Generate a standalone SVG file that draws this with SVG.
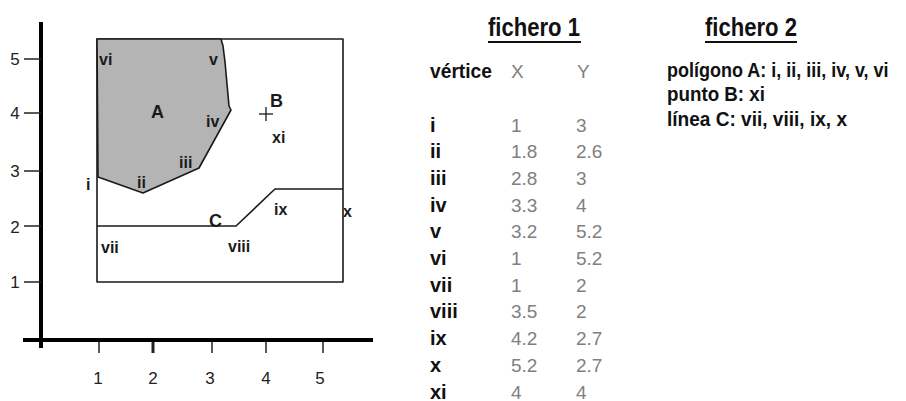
<svg xmlns="http://www.w3.org/2000/svg" width="906" height="401" viewBox="0 0 906 401">
  <style>
    .axis { stroke: #000; stroke-width: 4; fill: none; }
    .tick { stroke: #222; stroke-width: 1.5; }
    .edge { stroke: #1a1a1a; stroke-width: 1.6; fill: none; stroke-linejoin: round; }
    .area { fill: #b4b4b4; }
    .num { font-family: "Liberation Sans", Arial, sans-serif; font-size: 17px; fill: #222; }
    .lbl { font-family: "Liberation Sans", Arial, sans-serif; font-size: 16px; font-weight: bold; fill: #1a1a1a; }
    .big { font-size: 18px; }
    .title { font-family: "Liberation Sans Narrow", "Liberation Sans", Arial, sans-serif; font-size: 25px; font-weight: bold; fill: #111; }
    .head { font-family: "Liberation Sans", Arial, sans-serif; font-size: 20px; font-weight: bold; fill: #111; }
    .val { font-family: "Liberation Sans", Arial, sans-serif; font-size: 19px; fill: #808080; }
    .uline { stroke: #111; stroke-width: 2; }
  </style>

  <!-- coordinate axes -->
  <g id="axes">
    <line class="axis" x1="41" y1="22" x2="41" y2="348"/>
    <line class="axis" x1="23" y1="340" x2="373" y2="340"/>
    <!-- y ticks -->
    <line class="tick" x1="24" y1="59" x2="41" y2="59"/>
    <line class="tick" x1="24" y1="113" x2="41" y2="113"/>
    <line class="tick" x1="24" y1="171" x2="41" y2="171"/>
    <line class="tick" x1="24" y1="226" x2="41" y2="226"/>
    <line class="tick" x1="24" y1="282" x2="41" y2="282"/>
    <!-- x ticks -->
    <line class="tick" x1="99" y1="342" x2="99" y2="353"/>
    <line class="tick" x1="153" y1="342" x2="153" y2="353" style="stroke-width:3"/>
    <line class="tick" x1="212" y1="342" x2="212" y2="353"/>
    <line class="tick" x1="266" y1="342" x2="266" y2="353"/>
    <line class="tick" x1="323" y1="342" x2="323" y2="353"/>
    <g class="num" text-anchor="middle">
      <text x="15" y="65">5</text>
      <text x="15" y="119">4</text>
      <text x="15" y="177">3</text>
      <text x="15" y="233">2</text>
      <text x="15" y="288">1</text>
      <text x="98" y="384">1</text>
      <text x="153" y="384">2</text>
      <text x="210" y="384">3</text>
      <text x="266" y="384">4</text>
      <text x="320" y="384">5</text>
    </g>
  </g>

  <!-- map frame -->
  <g id="frame">
    <rect class="edge" x="97" y="39" width="246" height="243"/>
  </g>

  <!-- polygon A -->
  <g id="polygonA">
    <polygon class="edge area" points="97,39 221,39 223,46 225,62 227,84 229,106 231,110 199,168 143,193 98,177"/>
    <text class="lbl big" x="151" y="118">A</text>
  </g>

  <!-- point B -->
  <g id="pointB">
    <line stroke="#1a1a1a" stroke-width="1.3" x1="259" y1="114" x2="273" y2="114"/>
    <line stroke="#1a1a1a" stroke-width="1.3" x1="266" y1="107" x2="266" y2="121"/>
    <text class="lbl big" x="270" y="107">B</text>
  </g>

  <!-- line C -->
  <g id="connectors">
    <polyline class="edge" points="97,226 236,226 275,189 343,189"/>
    <text class="lbl big" x="209" y="227">C</text>
  </g>

  <!-- vertex labels -->
  <g id="vertexLabels" class="lbl">
    <text x="86" y="190">i</text>
    <text x="137" y="188">ii</text>
    <text x="179" y="168">iii</text>
    <text x="206" y="127">iv</text>
    <text x="209" y="65">v</text>
    <text x="99" y="65">vi</text>
    <text x="101" y="253">vii</text>
    <text x="228" y="252">viii</text>
    <text x="274" y="215">ix</text>
    <text x="343" y="217">x</text>
    <text x="272" y="143">xi</text>
  </g>

  <!-- file 1: vertex coordinate table -->
  <g id="fichero1">
    <text class="title" x="488" y="36" textLength="92" lengthAdjust="spacingAndGlyphs">fichero 1</text>
    <line class="uline" x1="488" y1="42" x2="581" y2="42"/>
    <text class="head" x="430" y="78" textLength="62" lengthAdjust="spacingAndGlyphs">vértice</text>
    <text class="val" x="511" y="78">X</text>
    <text class="val" x="577" y="78">Y</text>
    <g class="head">
      <text x="430" y="131.5">i</text>
      <text x="430" y="158.2">ii</text>
      <text x="430" y="184.9">iii</text>
      <text x="430" y="211.6">iv</text>
      <text x="430" y="238.3">v</text>
      <text x="430" y="265">vi</text>
      <text x="430" y="291.7">vii</text>
      <text x="430" y="318.4">viii</text>
      <text x="430" y="345.1">ix</text>
      <text x="430" y="371.8">x</text>
      <text x="430" y="398.5">xi</text>
    </g>
    <g class="val">
      <text x="511" y="131.5">1</text>
      <text x="511" y="158.2">1.8</text>
      <text x="511" y="184.9">2.8</text>
      <text x="511" y="211.6">3.3</text>
      <text x="511" y="238.3">3.2</text>
      <text x="511" y="265">1</text>
      <text x="511" y="291.7">1</text>
      <text x="511" y="318.4">3.5</text>
      <text x="511" y="345.1">4.2</text>
      <text x="511" y="371.8">5.2</text>
      <text x="511" y="398.5">4</text>
      <text x="576" y="131.5">3</text>
      <text x="576" y="158.2">2.6</text>
      <text x="576" y="184.9">3</text>
      <text x="576" y="211.6">4</text>
      <text x="576" y="238.3">5.2</text>
      <text x="576" y="265">5.2</text>
      <text x="576" y="291.7">2</text>
      <text x="576" y="318.4">2</text>
      <text x="576" y="345.1">2.7</text>
      <text x="576" y="371.8">2.7</text>
      <text x="576" y="398.5">4</text>
    </g>
  </g>

  <!-- file 2: object definitions -->
  <g id="fichero2">
    <text class="title" x="705" y="36" textLength="92" lengthAdjust="spacingAndGlyphs">fichero 2</text>
    <line class="uline" x1="705" y1="42" x2="797" y2="42"/>
    <text class="head" transform="translate(667,77) scale(0.9,1)">polígono A: i, ii, iii, iv, v, vi</text>
    <text class="head" x="667" y="101" textLength="98" lengthAdjust="spacingAndGlyphs">punto B: xi</text>
    <text class="head" x="667" y="126" textLength="180" lengthAdjust="spacingAndGlyphs">línea C: vii, viii, ix, x</text>
  </g>
</svg>
